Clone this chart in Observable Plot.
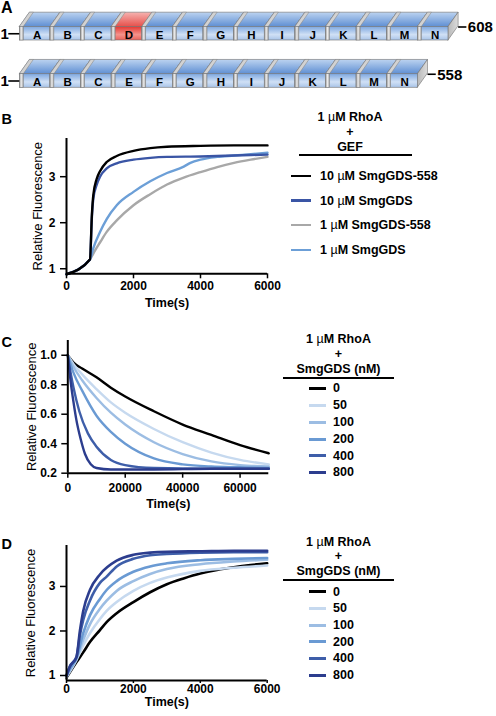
<!DOCTYPE html>
<html><head><meta charset="utf-8">
<script src="https://cdn.jsdelivr.net/npm/d3@7"></script>
<script src="https://cdn.jsdelivr.net/npm/@observablehq/plot@0.6"></script>
<style>
body{margin:0;background:#fff;}
#root{position:relative;width:496px;height:716px;overflow:hidden;font-family:"Liberation Sans",Arial,Helvetica,sans-serif;color:#000;}
.abs{position:absolute;}
.ctr{position:absolute;transform:translate(-50%,-50%);white-space:nowrap;line-height:1;font-weight:bold;}
.lt{position:absolute;transform:translateY(-50%);white-space:nowrap;line-height:1;font-weight:bold;font-size:12.5px;}
.mu{font-weight:normal;}
</style></head><body>
<svg width="0" height="0" style="position:absolute">
<defs>
<linearGradient id="gFront" x1="0" y1="0" x2="0" y2="1"><stop offset="0" stop-color="#7ea8e0"/><stop offset="0.6" stop-color="#d0e0f5"/><stop offset="1" stop-color="#a9c4e8"/></linearGradient>
<linearGradient id="gTop" x1="0" y1="0" x2="0" y2="1"><stop offset="0" stop-color="#bcd3f0"/><stop offset="1" stop-color="#5f8fd3"/></linearGradient>
<linearGradient id="gFrontRed" x1="0" y1="0" x2="0" y2="1"><stop offset="0" stop-color="#e43731"/><stop offset="0.6" stop-color="#f5928b"/><stop offset="1" stop-color="#ea625b"/></linearGradient>
<linearGradient id="gTopRed" x1="0" y1="0" x2="0" y2="1"><stop offset="0" stop-color="#f6b3b0"/><stop offset="1" stop-color="#e6504b"/></linearGradient>
<linearGradient id="gSlab" x1="0" y1="0" x2="1" y2="0"><stop offset="0" stop-color="#9c9c9c"/><stop offset="0.5" stop-color="#ebebeb"/><stop offset="1" stop-color="#a3a3a3"/></linearGradient>
<linearGradient id="gCap" x1="0" y1="0" x2="1" y2="0"><stop offset="0" stop-color="#b8b8b8"/><stop offset="1" stop-color="#dcdcdc"/></linearGradient>
</defs></svg>
<div id="root"></div>
<script>
// ---------------- DATA ----------------
// Panel A: domain schematic
const domainsFull = ["A","B","C","D","E","F","G","H","I","J","K","L","M","N"];
const domains558 = ["A","B","C","E","F","G","H","I","J","K","L","M","N"];
const highlighted = "D";
const rowStart = ["1","1"];
const rowEnd = ["608","558"];

// Panel B
const bTicksX = [0, 2000, 4000, 6000];
const bTicksY = [1, 2, 3];
const bNames = ["10 µM SmgGDS-558", "10 µM SmgGDS", "1 µM SmgGDS-558", "1 µM SmgGDS"];
const bColors = ["#000000", "#3a55a5", "#a8a8a8", "#6c9fd7"];
const bLegendTitle = ["1 µM RhoA", "+", "GEF"];
const b558_10 = [[0,0.88],[700,1.2],[760,2.2],[800,2.6],[900,2.95],[1000,3.12],[1200,3.32],[1500,3.45],[2000,3.56],[2500,3.62],[3000,3.65],[4000,3.67],[5000,3.68],[6000,3.68]];
const bWT_10 = [[0,0.88],[700,1.2],[760,2.15],[800,2.52],[900,2.82],[1000,3.0],[1200,3.18],[1500,3.29],[2000,3.37],[2500,3.41],[3000,3.43],[4000,3.44],[5000,3.46],[6000,3.48]];
const b558_1 = [[0,0.88],[700,1.2],[800,1.33],[1000,1.57],[1200,1.8],[1500,2.05],[2000,2.38],[2500,2.62],[3000,2.83],[3500,2.98],[4000,3.1],[4500,3.21],[5000,3.3],[5500,3.37],[6000,3.43]];
const bWT_1 = [[0,0.88],[700,1.2],[800,1.45],[1000,1.8],[1200,2.08],[1500,2.38],[2000,2.67],[2500,2.9],[3000,3.08],[3500,3.22],[3700,3.3],[4000,3.37],[4500,3.43],[5000,3.46],[5500,3.49],[6000,3.52]];

// Panel C
const cTicksX = [0, 20000, 40000, 60000];
const cTicksY = [0.2, 0.4, 0.6, 0.8, 1.0];
const concNames = ["0", "50", "100", "200", "400", "800"];
const concColors = ["#000000", "#c6d9ef", "#9cbde3", "#6a9ad3", "#3e5ea9", "#2c3d8e"];
const cdLegendTitle = ["1 µM RhoA", "+", "SmgGDS (nM)"];
const c0 = [[0,1.0],[2000,0.95],[5000,0.91],[10000,0.85],[15000,0.78],[20000,0.72],[30000,0.62],[40000,0.53],[50000,0.46],[60000,0.39],[70000,0.335]];
const c50 = [[0,1.0],[2000,0.94],[5000,0.87],[10000,0.77],[15000,0.68],[20000,0.61],[30000,0.5],[40000,0.41],[50000,0.34],[60000,0.29],[70000,0.26]];
const c100 = [[0,1.0],[2000,0.92],[5000,0.83],[10000,0.71],[15000,0.61],[20000,0.53],[30000,0.41],[40000,0.33],[50000,0.28],[60000,0.255],[70000,0.245]];
const c200 = [[0,1.0],[2000,0.88],[5000,0.76],[10000,0.59],[15000,0.48],[20000,0.4],[30000,0.3],[40000,0.26],[50000,0.245],[60000,0.24],[70000,0.235]];
const c400 = [[0,1.0],[1000,0.88],[2000,0.78],[4000,0.62],[7000,0.47],[10000,0.38],[15000,0.29],[20000,0.255],[30000,0.235],[50000,0.23],[70000,0.23]];
const c800 = [[0,1.0],[1000,0.82],[2000,0.68],[3000,0.56],[4500,0.43],[6000,0.33],[8000,0.26],[10000,0.235],[15000,0.225],[30000,0.225],[50000,0.23],[70000,0.23]];

// Panel D
const dTicksX = [0, 2000, 4000, 6000];
const dTicksY = [1, 2, 3];
const d0 = [[0,0.95],[300,1.3],[500,1.52],[700,1.75],[1000,2.02],[1200,2.2],[1500,2.4],[2000,2.65],[2500,2.87],[3000,3.05],[3500,3.18],[4000,3.29],[4500,3.37],[5000,3.43],[5500,3.48],[6000,3.52]];
const d50 = [[0,0.97],[300,1.35],[500,1.68],[700,1.95],[1000,2.27],[1200,2.45],[1500,2.65],[2000,2.9],[2500,3.08],[3000,3.2],[4000,3.35],[5000,3.42],[6000,3.47]];
const d100 = [[0,0.98],[100,1.12],[300,1.38],[500,1.8],[700,2.15],[1000,2.5],[1200,2.68],[1500,2.9],[2000,3.12],[2500,3.28],[3000,3.39],[4000,3.5],[5000,3.56],[6000,3.6]];
const d200 = [[0,1.0],[100,1.15],[300,1.4],[500,1.95],[700,2.35],[1000,2.72],[1200,2.92],[1500,3.12],[2000,3.33],[2500,3.45],[3000,3.52],[4000,3.59],[5000,3.62],[6000,3.64]];
const d400 = [[0,1.0],[100,1.2],[300,1.42],[400,1.9],[500,2.25],[700,2.68],[1000,3.08],[1200,3.22],[1500,3.45],[2000,3.62],[2500,3.7],[3000,3.73],[4000,3.76],[5000,3.77],[6000,3.77]];
const d800 = [[0,1.0],[100,1.2],[300,1.42],[400,2.0],[500,2.45],[700,2.92],[1000,3.27],[1500,3.58],[2000,3.71],[2500,3.76],[3000,3.78],[4000,3.79],[5000,3.8],[6000,3.8]];

// ---------------- BUILD ----------------
const root = document.getElementById("root");
const FONT = '"Liberation Sans", Arial, Helvetica, sans-serif';
function place(el, left, top) {
  const d = document.createElement("div");
  d.className = "abs"; d.style.left = left + "px"; d.style.top = top + "px";
  d.appendChild(el); root.appendChild(d); return d;
}
function html(cls, text, left, top, extra) {
  const d = document.createElement("div");
  d.className = cls; d.innerHTML = text.replace(/µ/g, '<span class="mu">µ</span>');
  d.style.left = left + "px"; d.style.top = top + "px";
  if (extra) Object.assign(d.style, extra);
  root.appendChild(d); return d;
}
function flatten(names, arrays) {
  const out = [];
  names.forEach((n, k) => arrays[k].forEach(([t, v]) => out.push({series: n, t, v})));
  return out;
}

// ---- Panel A ----
const rows = [domainsFull, domains558];
const rowBase = [0, -3.5];
const skew = 0.33, topH = 1.06, slabW = 0.13;
const boxes = [];
rows.forEach((doms, r) => doms.forEach((letter, i) => boxes.push({r, i, letter, base: rowBase[r], red: letter === highlighted && r === 0, key: r + "-" + i})));
const topPts = boxes.flatMap(b => [
  {key: b.key, red: b.red, y: b.base + 1, x1: b.i, x2: b.i + 1},
  {key: b.key, red: b.red, y: b.base + 1 + topH, x1: b.i + skew, x2: b.i + 1 + skew}
]);
const slabTop = boxes.flatMap(b => [
  {key: b.key, y: b.base + 1, x1: b.i, x2: b.i + slabW},
  {key: b.key, y: b.base + 1 + topH, x1: b.i + skew, x2: b.i + slabW + skew}
]);
const rowInfo = rows.map((doms, r) => ({r, n: doms.length, base: rowBase[r], start: rowStart[r], end: rowEnd[r]}));
const capPts = rowInfo.flatMap(o => [
  {key: o.r, x: o.n, y1: o.base, y2: o.base + 1},
  {key: o.r, x: o.n + skew, y1: o.base + topH, y2: o.base + 1 + topH}
]);
const plotA = Plot.plot({
  width: 496, height: 95, margin: 0,
  x: {domain: [0, 14], range: [19.3, 448], axis: null},
  y: {domain: [0, 1], range: [40, 26.5], axis: null},
  style: {fontFamily: FONT, overflow: "visible", background: "transparent"},
  marks: [
    Plot.areaX(topPts.filter(d => !d.red), {y: "y", x1: "x1", x2: "x2", z: "key", fill: "url(#gTop)", stroke: "#6f6f6f", strokeWidth: 0.6}),
    Plot.areaX(topPts.filter(d => d.red), {y: "y", x1: "x1", x2: "x2", z: "key", fill: "url(#gTopRed)", stroke: "#6f6f6f", strokeWidth: 0.6}),
    Plot.areaX(slabTop, {y: "y", x1: "x1", x2: "x2", z: "key", fill: "#d2d2d2", stroke: "#808080", strokeWidth: 0.5}),
    Plot.areaY(capPts, {x: "x", y1: "y1", y2: "y2", z: "key", fill: "url(#gCap)", stroke: "#6f6f6f", strokeWidth: 0.6}),
    Plot.rect(boxes.filter(d => !d.red), {x1: d => d.i, x2: d => d.i + 1, y1: d => d.base, y2: d => d.base + 1, fill: "url(#gFront)", stroke: "#6f6f6f", strokeWidth: 0.6}),
    Plot.rect(boxes.filter(d => d.red), {x1: d => d.i, x2: d => d.i + 1, y1: d => d.base, y2: d => d.base + 1, fill: "url(#gFrontRed)", stroke: "#6f6f6f", strokeWidth: 0.6}),
    Plot.rect(boxes, {x1: d => d.i, x2: d => d.i + slabW, y1: d => d.base, y2: d => d.base + 1, fill: "url(#gSlab)", stroke: "#7a7a7a", strokeWidth: 0.5}),
    Plot.text(boxes, {x: d => d.i + 0.5 + slabW / 2, y: d => d.base + 0.42, text: "letter", fontWeight: "bold", fontSize: 11.5, fill: "#000"}),
    Plot.ruleY(rowInfo, {y: d => d.base + 0.5, x1: -0.36, x2: 0, strokeWidth: 1.6}),
    Plot.text(rowInfo, {x: 0, y: d => d.base + 0.5, text: "start", textAnchor: "end", dx: -11, fontSize: 15, fontWeight: "bold"}),
    Plot.ruleY(rowInfo, {y: d => d.base + 1, x1: d => d.n + skew, x2: d => d.n + skew + 0.27, strokeWidth: 1.6}),
    Plot.text(rowInfo, {x: d => d.n + skew + 0.27, y: d => d.base + 0.95, text: "end", textAnchor: "start", dx: 1, fontSize: 15, fontWeight: "bold"})
  ]
});
place(plotA, 0, 0);

// ---- Generic kinetics panel ----
function kinetics({data, names, colors, xDomain, yDomain, xTicks, yTicks, yFmt, width, height, mL, mR, mT, mB, xTick, xPad, timeDy, relDx, sw}) {
  return Plot.plot({
    width, height, marginLeft: mL, marginRight: mR, marginTop: mT, marginBottom: mB,
    x: {domain: xDomain}, y: {domain: yDomain},
    color: {domain: names, range: colors},
    style: {fontFamily: FONT, fontSize: "12px", fontWeight: "bold", overflow: "visible", background: "transparent"},
    marks: [
      Plot.line(data, {x: "t", y: "v", z: "series", stroke: "series", strokeWidth: sw, curve: "monotone-x"}),
      Plot.ruleX([xDomain[0]], {strokeWidth: 2}),
      Plot.ruleY([yDomain[0]], {strokeWidth: 2}),
      Plot.axisX({ticks: xTicks, tickSize: xTick, tickPadding: xPad, tickFormat: d => String(d), label: null, strokeWidth: 1.5}),
      Plot.axisY({ticks: yTicks, tickSize: 6, tickPadding: 5, tickFormat: yFmt, label: null, strokeWidth: 1.5}),
      Plot.text(["Time(s)"], {frameAnchor: "bottom", lineAnchor: "middle", textAnchor: "middle", dy: timeDy, fontSize: 12.5}),
      Plot.text(["Relative Fluorescence"], {frameAnchor: "left", textAnchor: "middle", lineAnchor: "middle", rotate: -90, dx: relDx, fontWeight: "normal", fontSize: 13})
    ]
  });
}
function legend({title, cx, titleYs, ruleY, ruleX1, ruleX2, names, colors, swX1, swX2, swH, textX, itemYs}) {
  title.forEach((t, k) => html("ctr", t, cx, titleYs[k], {fontSize: "12.5px"}));
  const r = document.createElement("div");
  Object.assign(r.style, {position: "absolute", left: ruleX1 + "px", top: (ruleY - 0.8) + "px", width: (ruleX2 - ruleX1) + "px", height: "1.6px", background: "#000"});
  root.appendChild(r);
  names.forEach((n, k) => {
    const s = document.createElement("div");
    Object.assign(s.style, {position: "absolute", left: swX1 + "px", top: (itemYs[k] - swH / 2) + "px", width: (swX2 - swX1) + "px", height: swH + "px", background: colors[k]});
    root.appendChild(s);
    html("lt", n, textX, itemYs[k]);
  });
}

// ---- Panel B ----
const bOrder = [2, 3, 1, 0];
const bData = flatten(bOrder.map(k => bNames[k]), bOrder.map(k => [b558_10, bWT_10, b558_1, bWT_1][k]));
place(kinetics({data: bData, names: bNames, colors: bColors, xDomain: [0, 6000], yDomain: [0.89, 3.83], xTicks: bTicksX, yTicks: bTicksY, yFmt: d => String(d),
  width: 277, height: 185.3, mL: 66, mR: 10, mT: 10, mB: 40, xTick: 5, xPad: 3, timeDy: 29, relDx: -28.5, sw: 2.4}), 0, 128);
legend({title: bLegendTitle, cx: 350, titleYs: [117, 132, 147], ruleY: 155, ruleX1: 299, ruleX2: 412, names: bNames, colors: bColors,
  swX1: 291, swX2: 311, swH: 2.5, textX: 320, itemYs: [176, 200.5, 225, 250]});

// ---- Panel C ----
const cData = flatten(concNames, [c0, c50, c100, c200, c400, c800]);
place(kinetics({data: cData, names: concNames, colors: concColors, xDomain: [0, 70000], yDomain: [0.2, 1.1], xTicks: cTicksX, yTicks: cTicksY, yFmt: d3.format(".1f"),
  width: 278.3, height: 182.7, mL: 67.3, mR: 10, mT: 10, mB: 40, xTick: 5, xPad: 5, timeDy: 31, relDx: -36, sw: 2.4}), 0, 330);
legend({title: cdLegendTitle, cx: 338.5, titleYs: [339, 353.5, 369], ruleY: 378, ruleX1: 283, ruleX2: 394, names: concNames, colors: concColors,
  swX1: 309, swX2: 326, swH: 3, textX: 333, itemYs: [388.3, 405.3, 422.2, 439, 455.7, 472.4]});

// ---- Panel D ----
const dData = flatten(concNames, [d0, d50, d100, d200, d400, d800]);
place(kinetics({data: dData, names: concNames, colors: concColors, xDomain: [0, 6000], yDomain: [0.888, 3.92], xTicks: dTicksX, yTicks: dTicksY, yFmt: d => String(d),
  width: 276.7, height: 181, mL: 66, mR: 10, mT: 10, mB: 36, xTick: 3, xPad: 1, timeDy: 22, relDx: -36, sw: 2.6}), 0, 535);
legend({title: cdLegendTitle, cx: 338.5, titleYs: [541.7, 555.5, 570.7], ruleY: 580, ruleX1: 283, ruleX2: 394, names: concNames, colors: concColors,
  swX1: 309, swX2: 326, swH: 3, textX: 333, itemYs: [591.7, 608.3, 625, 641.7, 658.3, 675]});

// ---- Panel letters ----
html("ctr", "A", 6.7, 7.6, {fontSize: "16px"});
html("ctr", "B", 6.7, 118.7, {fontSize: "14.5px"});
html("ctr", "C", 6.7, 341.7, {fontSize: "14.5px"});
html("ctr", "D", 6.7, 543.7, {fontSize: "14.5px"});
</script></body></html>
